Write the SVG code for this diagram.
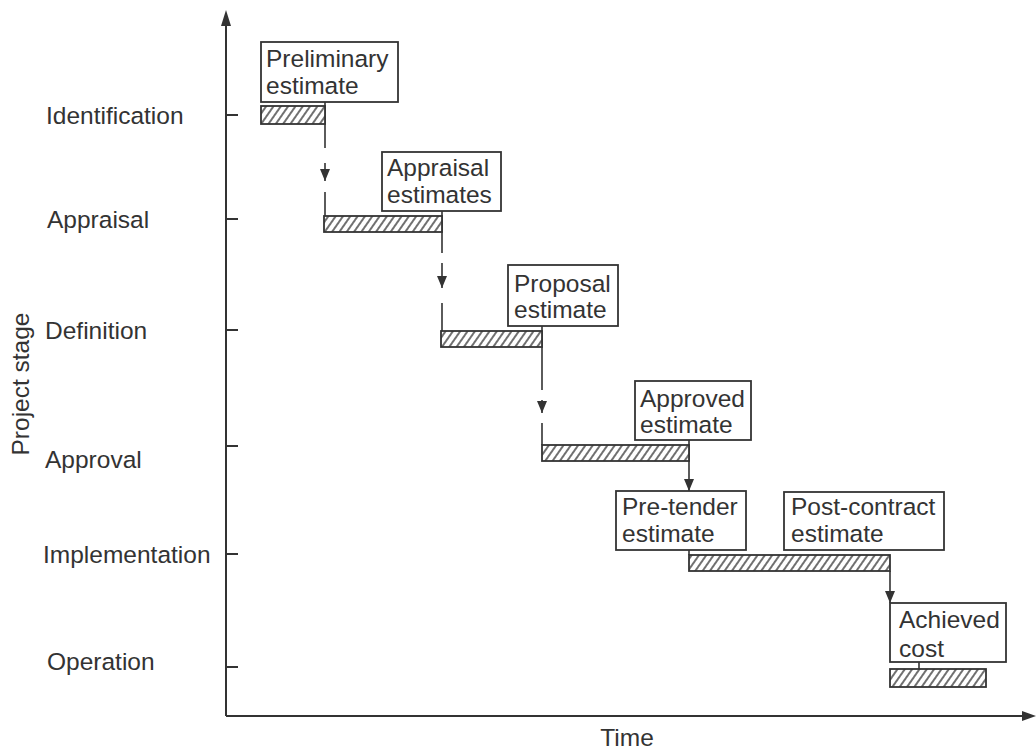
<svg xmlns="http://www.w3.org/2000/svg" width="1036" height="755" viewBox="0 0 1036 755">
<style>
text{font-family:"Liberation Sans",Arial,sans-serif;font-size:24.5px;fill:#333}
.box{fill:#fff;stroke:#333;stroke-width:1.8}
.bar{fill:url(#hatch);stroke:#333;stroke-width:1.8}
.ln{stroke:#333;stroke-width:1.6;fill:none}
.ax{stroke:#333;stroke-width:2;fill:none}
</style>
<defs>
<pattern id="hatch" width="6" height="6" patternUnits="userSpaceOnUse" patternTransform="rotate(35)">
<rect width="6" height="6" fill="#fff"/>
<line x1="3" y1="0" x2="3" y2="6" stroke="#333" stroke-width="1.4"/>
</pattern>
<marker id="ah" markerUnits="userSpaceOnUse" markerWidth="13" markerHeight="10" refX="12" refY="5" orient="auto" viewBox="0 0 13 10">
<path d="M0,0 L12,5 L0,10 Z" fill="#333"/>
</marker>
</defs>
<rect width="1036" height="755" fill="#fff"/>

<g id="axes">
<line class="ax" x1="226" y1="716" x2="226" y2="14"/>
<path d="M226,10 L231,26 L221,26 Z" fill="#333"/>
<line class="ax" x1="226" y1="716" x2="1030" y2="716"/>
<path d="M1036,716 L1022,711 L1022,721 Z" fill="#333"/>
<g class="ax">
<line x1="226" y1="115" x2="238" y2="115"/>
<line x1="226" y1="219" x2="238" y2="219"/>
<line x1="226" y1="330" x2="238" y2="330"/>
<line x1="226" y1="446" x2="238" y2="446"/>
<line x1="226" y1="554" x2="238" y2="554"/>
<line x1="226" y1="667" x2="238" y2="667"/>
</g>
<text x="46" y="124">Identification</text>
<text x="47" y="228">Appraisal</text>
<text x="45" y="339">Definition</text>
<text x="45" y="468">Approval</text>
<text x="43" y="563">Implementation</text>
<text x="47" y="670">Operation</text>
<text transform="translate(29,384) rotate(-90)" text-anchor="middle">Project stage</text>
<text x="627" y="746" text-anchor="middle">Time</text>
</g>

<g id="connectors">
<line class="ln" x1="325" y1="102" x2="325" y2="148"/>
<line class="ln" x1="325" y1="163" x2="325" y2="181" marker-end="url(#ah)"/>
<line class="ln" x1="325" y1="192" x2="325" y2="216"/>

<line class="ln" x1="442" y1="211" x2="442" y2="253"/>
<line class="ln" x1="442" y1="263" x2="442" y2="288" marker-end="url(#ah)"/>
<line class="ln" x1="442" y1="303" x2="442" y2="331"/>

<line class="ln" x1="542" y1="326" x2="542" y2="390"/>
<line class="ln" x1="542" y1="400" x2="542" y2="413" marker-end="url(#ah)"/>
<line class="ln" x1="542" y1="423" x2="542" y2="445"/>

<line class="ln" x1="689" y1="440" x2="689" y2="491" marker-end="url(#ah)"/>
<line class="ln" x1="689" y1="550" x2="689" y2="555"/>

<line class="ln" x1="890" y1="571" x2="890" y2="603" marker-end="url(#ah)"/>

<line class="ln" x1="919" y1="662" x2="919" y2="669"/>
</g>

<g id="n1">
<rect class="bar" x="261" y="106" width="64" height="18"/>
<rect class="box" x="261" y="42" width="137" height="60"/>
<text x="266" y="67">Preliminary</text>
<text x="266" y="94">estimate</text>
</g>
<g id="n2">
<rect class="bar" x="324" y="216" width="118" height="16"/>
<rect class="box" x="382" y="152" width="119" height="59"/>
<text x="387" y="176">Appraisal</text>
<text x="387" y="203">estimates</text>
</g>
<g id="n3">
<rect class="bar" x="441" y="331" width="101" height="16"/>
<rect class="box" x="508" y="265" width="110" height="61"/>
<text x="514" y="292">Proposal</text>
<text x="514" y="318">estimate</text>
</g>
<g id="n4">
<rect class="bar" x="542" y="445" width="147" height="16"/>
<rect class="box" x="635" y="381" width="116" height="59"/>
<text x="640" y="407">Approved</text>
<text x="640" y="433">estimate</text>
</g>
<g id="n5">
<rect class="bar" x="689" y="555" width="201" height="16"/>
<rect class="box" x="616" y="491" width="130" height="59"/>
<text x="622" y="515">Pre-tender</text>
<text x="622" y="542">estimate</text>
</g>
<g id="n6">
<rect class="box" x="784" y="492" width="160" height="58"/>
<text x="791" y="515">Post-contract</text>
<text x="791" y="542">estimate</text>
</g>
<g id="n7">
<rect class="bar" x="890" y="669" width="96" height="18"/>
<rect class="box" x="890" y="603" width="116" height="59"/>
<text x="899" y="628">Achieved</text>
<text x="899" y="657">cost</text>
</g>
</svg>
